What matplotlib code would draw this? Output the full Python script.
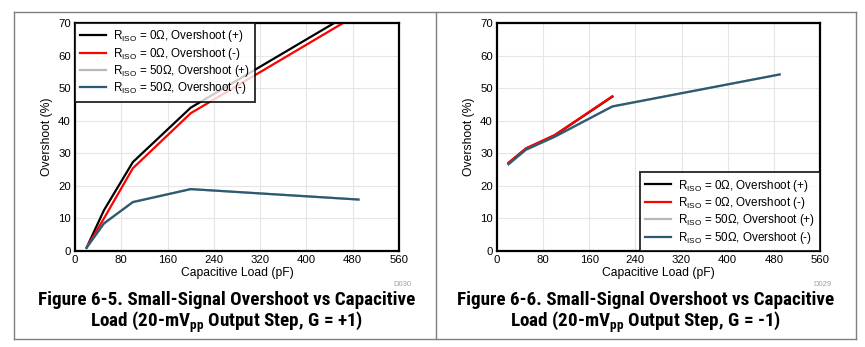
import matplotlib
matplotlib.use("Agg")
import matplotlib.pyplot as plt
from matplotlib.lines import Line2D

plt.rcParams["font.family"] = ["Liberation Sans", "DejaVu Sans"]
plt.rcParams["mathtext.fontset"] = "custom"
plt.rcParams["mathtext.rm"] = "Liberation Sans"
plt.rcParams["mathtext.it"] = "Liberation Sans"
plt.rcParams["mathtext.bf"] = "Roboto Condensed:bold"

# ---- data: G = +1 ----
cap_0r_p1 = [20, 50, 100, 200, 490]
os_0r_pos_p1 = [1.0, 12.5, 27.3, 44.0, 74.4]
os_0r_neg_p1 = [1.0, 10.0, 25.4, 42.3, 72.8]
cap_50r_p1 = [20, 50, 100, 200, 490]
os_50r_pos_p1 = [1.0, 8.3, 15.1, 19.0, 15.8]
os_50r_neg_p1 = [1.0, 8.5, 15.0, 19.0, 15.8]

# ---- data: G = -1 ----
cap_0r_m1 = [20, 50, 100, 200]
os_0r_pos_m1 = [27.0, 31.4, 35.5, 47.4]
os_0r_neg_m1 = [27.1, 31.5, 35.6, 47.5]
cap_50r_m1 = [20, 50, 100, 200, 490]
os_50r_pos_m1 = [26.5, 31.0, 35.0, 44.3, 54.2]
os_50r_neg_m1 = [26.7, 31.1, 35.1, 44.4, 54.2]

labels = [r"R$_{\mathrm{ISO}}$ = 0Ω, Overshoot (+)",
          r"R$_{\mathrm{ISO}}$ = 0Ω, Overshoot (-)",
          r"R$_{\mathrm{ISO}}$ = 50Ω, Overshoot (+)",
          r"R$_{\mathrm{ISO}}$ = 50Ω, Overshoot (-)"]
colors = ["#000000", "#ff0000", "#b8b8b8", "#2b5a72"]

xticks = [0, 80, 160, 240, 320, 400, 480, 560]
yticks = [0, 10, 20, 30, 40, 50, 60, 70]

captions = [
    "Figure 6-5. Small-Signal Overshoot vs Capacitive\n"
    r"Load (20-mV$_{\mathbf{pp}}$ Output Step, G = +1)",
    "Figure 6-6. Small-Signal Overshoot vs Capacitive\n"
    r"Load (20-mV$_{\mathbf{pp}}$ Output Step, G = -1)",
]
codes = ["D030", "D029"]

W, H = 865, 347
fig = plt.figure(figsize=(W / 100, H / 100), dpi=100)


def px_axes(x0, y0, x1, y1):
    return fig.add_axes([x0 / W, 1 - y1 / H, (x1 - x0) / W, (y1 - y0) / H])


# outer frame and separator
frame = dict(color="#7f7f7f", lw=1.0, transform=fig.transFigure)
for xs, ys in [([14.5, 856], [12, 12]), ([14.5, 856], [339, 339]),
               ([14.5, 14.5], [12, 339]), ([856, 856], [12, 339]),
               ([436, 436], [12, 339])]:
    fig.add_artist(Line2D([x / W for x in xs], [1 - y / H for y in ys], **frame))

panels = [
    (px_axes(75, 23, 399, 251),
     [(cap_0r_p1, os_0r_pos_p1), (cap_0r_p1, os_0r_neg_p1),
      (cap_50r_p1, os_50r_pos_p1), (cap_50r_p1, os_50r_neg_p1)],
     "upper left", 227, 411),
    (px_axes(497, 23, 820, 251),
     [(cap_0r_m1, os_0r_pos_m1), (cap_0r_m1, os_0r_neg_m1),
      (cap_50r_m1, os_50r_pos_m1), (cap_50r_m1, os_50r_neg_m1)],
     "lower right", 646, 832),
]

for i, (ax, series, loc, cap_x, code_x) in enumerate(panels):
    for (xs, ys), lab, c in zip(series, labels, colors):
        ax.plot(xs, ys, color=c, lw=1.6, label=lab, solid_joinstyle="miter")
    ax.set_xlim(0, 560)
    ax.set_ylim(0, 70)
    ax.set_xticks(xticks)
    ax.set_yticks(yticks)
    ax.grid(True, color="#e6e6e6", lw=0.8)
    ax.set_axisbelow(True)
    for s in ax.spines.values():
        s.set_linewidth(1.6)
    ax.tick_params(length=0, labelsize=8.2, pad=3)
    ax.set_xlabel("Capacitive Load (pF)", fontsize=8.7, labelpad=1)
    ax.set_ylabel("Overshoot (%)", fontsize=8.7, labelpad=4)
    leg = ax.legend(loc=loc, fontsize=8.4, frameon=True, fancybox=False,
                    borderaxespad=0, handlelength=2.2, handletextpad=0.6,
                    labelspacing=0.12, borderpad=0.45)
    leg.get_frame().set_edgecolor("black")
    leg.get_frame().set_linewidth(1.4)
    fig.text(code_x / W, 1 - 285 / H, codes[i], fontsize=5.5, color="#a0a0a0",
             ha="right", va="center")
    fig.text(cap_x / W, 1 - 313 / H, captions[i], fontsize=13.8,
             fontweight="bold", family=["Roboto Condensed", "DejaVu Sans"],
             ha="center", va="center", linespacing=1.0)

fig.savefig("out.png", dpi=100)
